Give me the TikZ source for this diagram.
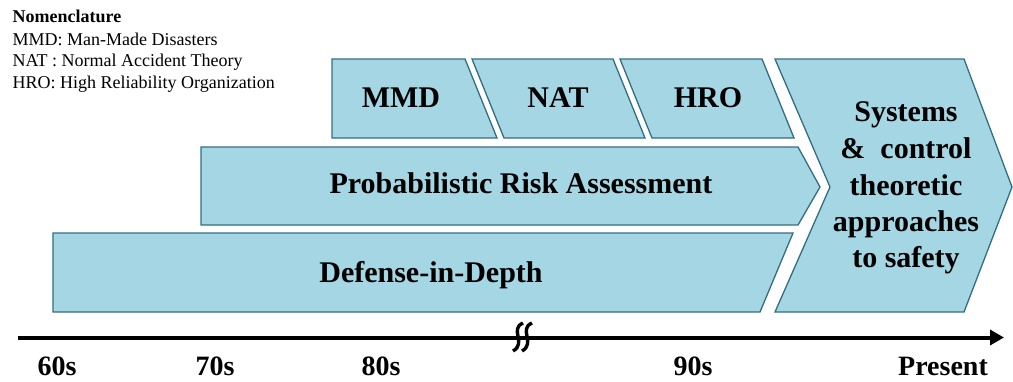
\documentclass[tikz,border=0pt]{standalone}
\usepackage{fontspec}
\setmainfont{Liberation Serif}
\usetikzlibrary{arrows.meta}
\definecolor{panelfill}{RGB}{165,214,227}
\definecolor{panelline}{RGB}{50,110,130}
\begin{document}
\begin{tikzpicture}[x=1pt,y=-1pt,
  panel/.style={fill=panelfill,draw=panelline,line width=1.3pt,line join=miter},
  boxtext/.style={anchor=base,inner sep=0pt,font=\fontsize{30}{36}\selectfont\bfseries},
  nomen/.style={anchor=base west,inner sep=0pt,font=\fontsize{18}{22}\selectfont},
  era/.style={anchor=base,inner sep=0pt,font=\fontsize{28}{32}\selectfont\bfseries},
  breakmark/.style={line width=3.4pt,line cap=butt}]
\useasboundingbox (0,0) rectangle (1013,381);

% legend
\node[nomen,font=\fontsize{18}{22}\selectfont\bfseries] (nom) at (12.5,22) {Nomenclature};
\node[nomen] (nmmd) at (12.5,45) {MMD: Man-Made Disasters};
\node[nomen] (nnat) at (12.5,66.5) {NAT : Normal Accident Theory};
\node[nomen] (nhro) at (12.5,88) {HRO: High Reliability Organization};

% top row of slanted panels
\draw[panel] (332,59) -- (465,59) -- (497,138) -- (332,138) -- cycle;
\draw[panel] (472,59) -- (613,59) -- (645,138) -- (504,138) -- cycle;
\draw[panel] (620,59) -- (762,59) -- (794,138) -- (652,138) -- cycle;
\node[boxtext] (mmd) at (401,107) {MMD};
\node[boxtext] (nat) at (558,107) {NAT};
\node[boxtext] (hro) at (708,107) {HRO};

% probabilistic risk assessment band
\draw[panel] (201,147) -- (798,147) -- (820,187) -- (798,225) -- (201,225) -- cycle;
\node[boxtext] (pra) at (521,193) {Probabilistic Risk Assessment};

% defense-in-depth band
\draw[panel] (53,233) -- (793,233) -- (760,312) -- (53,312) -- cycle;
\node[boxtext] (did) at (431,282) {Defense-in-Depth};

% systems chevron
\draw[panel] (775,59) -- (964,59) -- (1012,187) -- (964,312) -- (775,312) -- (830,187) -- cycle;
\node[boxtext] (sys1) at (906,121.5) {Systems};
\node[boxtext] (sys2) at (906,158) {\&~ control};
\node[boxtext] (sys3) at (906,195) {theoretic};
\node[boxtext] (sys4) at (906,231.5) {approaches};
\node[boxtext] (sys5) at (906,267) {to safety};

% time axis
\coordinate (tstart) at (18,337.5);
\coordinate (tend) at (1004,337.5);
\draw[line width=4pt,-{Triangle[length=14pt,width=15pt]}] (tstart) -- (tend);
% break mark
\draw[breakmark] (523,323) .. controls (509,329) and (527,343) .. (513,351);
\draw[breakmark] (532,323) .. controls (518,329) and (536,343) .. (522,351);

\node[era] (t60) at (57,375.5) {60s};
\node[era] (t70) at (215,375.5) {70s};
\node[era] (t80) at (381,375.5) {80s};
\node[era] (t90) at (693,375.5) {90s};
\node[era] (tnow) at (943,375.5) {Present};
\end{tikzpicture}
\end{document}
